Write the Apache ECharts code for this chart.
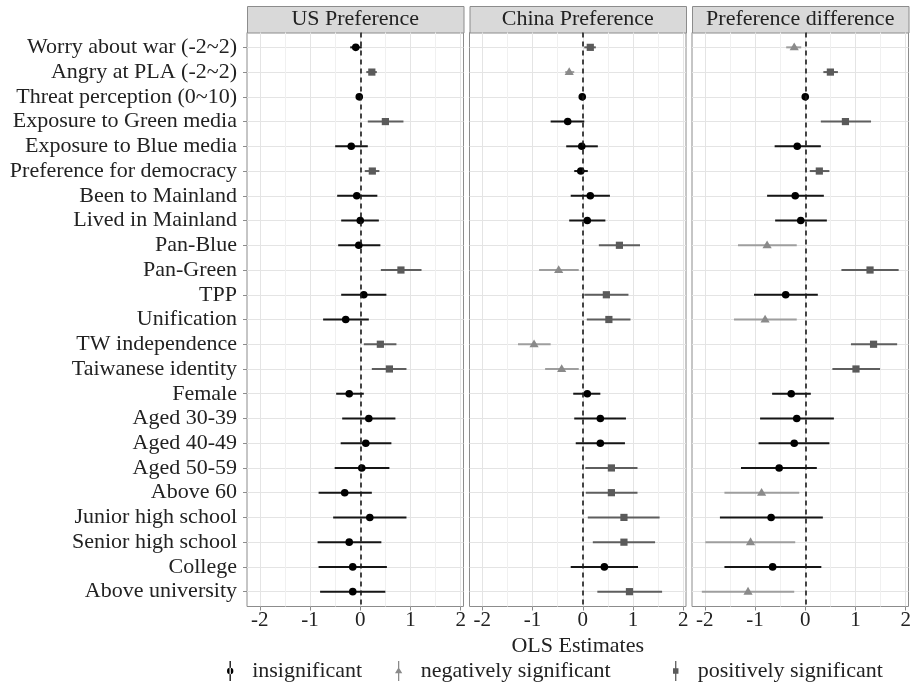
<!DOCTYPE html>
<html>
<head>
<meta charset="utf-8">
<script src="https://cdn.jsdelivr.net/npm/echarts@6/dist/echarts.min.js"></script>
<style>html,body{margin:0;padding:0;background:#fff}#chart{width:913px;height:691px}</style>
</head>
<body>
<div id="chart"></div>
<script>
var categories = ['Worry about war (-2~2)','Angry at PLA (-2~2)','Threat perception (0~10)','Exposure to Green media',
  'Exposure to Blue media','Preference for democracy','Been to Mainland','Lived in Mainland','Pan-Blue','Pan-Green',
  'TPP','Unification','TW independence','Taiwanese identity','Female','Aged 30-39','Aged 40-49','Aged 50-59',
  'Above 60','Junior high school','Senior high school','College','Above university'];
var panelNames = ['US Preference','China Preference','Preference difference'];

// i = insignificant, n = negatively significant, p = positively significant
var usEst = [-0.09,0.23,-0.02,0.50,-0.18,0.24,-0.07,0.00,-0.03,0.81,0.07,-0.29,0.40,0.58,-0.22,0.17,0.11,0.03,-0.31,0.19,-0.22,-0.15,-0.15];
var usLo  = [-0.20,0.12,-0.07,0.15,-0.50,0.09,-0.46,-0.38,-0.44,0.41,-0.38,-0.74,0.07,0.23,-0.48,-0.36,-0.39,-0.51,-0.83,-0.54,-0.85,-0.83,-0.80];
var usHi  = [0.03,0.33,0.03,0.86,0.15,0.38,0.34,0.37,0.40,1.22,0.52,0.17,0.72,0.92,0.07,0.70,0.62,0.58,0.23,0.92,0.42,0.53,0.50];
var usSig = ['i','p','i','p','i','p','i','i','i','p','i','i','p','p','i','i','i','i','i','i','i','i','i'];

var cnEst = [0.15,-0.27,-0.01,-0.30,-0.02,-0.04,0.15,0.09,0.73,-0.48,0.47,0.52,-0.97,-0.42,0.09,0.35,0.35,0.57,0.57,0.82,0.82,0.43,0.93];
var cnLo  = [0.03,-0.35,-0.05,-0.64,-0.33,-0.17,-0.24,-0.27,0.32,-0.87,0.03,0.08,-1.29,-0.75,-0.19,-0.17,-0.14,0.05,0.06,0.10,0.20,-0.24,0.29];
var cnHi  = [0.26,-0.17,0.03,0.03,0.30,0.10,0.54,0.45,1.14,-0.08,0.91,0.95,-0.64,-0.08,0.35,0.86,0.84,1.09,1.09,1.53,1.44,1.10,1.58];
var cnSig = ['p','n','i','i','i','i','i','i','p','n','p','p','n','n','i','i','i','p','p','p','p','i','p'];

var diffEst = [-0.22,0.50,0.00,0.80,-0.16,0.28,-0.20,-0.09,-0.76,1.29,-0.39,-0.80,1.36,1.01,-0.28,-0.17,-0.22,-0.52,-0.87,-0.68,-1.09,-0.65,-1.14];
var diffLo  = [-0.38,0.36,-0.06,0.31,-0.61,0.09,-0.76,-0.60,-1.34,0.72,-1.02,-1.42,0.91,0.54,-0.66,-0.90,-0.93,-1.28,-1.61,-1.70,-1.99,-1.61,-2.06];
var diffHi  = [-0.08,0.65,0.06,1.31,0.31,0.48,0.37,0.43,-0.17,1.86,0.25,-0.17,1.83,1.49,0.11,0.57,0.48,0.23,-0.12,0.35,-0.20,0.32,-0.22];
var diffSig = ['n','p','i','p','i','p','i','i','n','p','i','n','p','p','i','i','i','i','n','i','n','i','n'];

var xTicks = [-2,-1,0,1,2];
var xMinorTicks = [-1.5,-0.5,0.5,1.5];
var groupNames = {i:'insignificant', n:'negatively significant', p:'positively significant'};

var panels = [
  {est:usEst, lo:usLo, hi:usHi, sig:usSig},
  {est:cnEst, lo:cnLo, hi:cnHi, sig:cnSig},
  {est:diffEst, lo:diffLo, hi:diffHi, sig:diffSig}
];

var FONT = 'Liberation Serif';
var TXT = '#222';
var sty = {
  i:{point:'#000000', line:'#151515'},
  n:{point:'#8a8a8a', line:'#9e9e9e'},
  p:{point:'#5a5a5a', line:'#5e5e5e'}
};

// shared x scale, ggplot-like 5% expansion
var allLo = usLo.concat(cnLo, diffLo), allHi = usHi.concat(cnHi, diffHi);
var dMin = Math.min.apply(null, allLo), dMax = Math.max.apply(null, allHi);
var xMin = dMin - 0.05*(dMax-dMin), xMax = dMax + 0.05*(dMax-dMin);

var gridLeft = [247, 469.5, 692], gridW = 216.5, gridTop = 32.5, gridH = 574;
var rowIdx = categories.map(function(c,i){return i;});

function makeRender(code){
  var s = sty[code];
  return function(params, api){
    var row = api.value(1);
    var p = api.coord([api.value(0), row]);
    var a = api.coord([api.value(2), row]);
    var b = api.coord([api.value(3), row]);
    var mark;
    if (code === 'i') {
      mark = {type:'circle', shape:{cx:p[0], cy:p[1], r:3.8}, style:{fill:s.point}};
    } else if (code === 'p') {
      mark = {type:'rect', shape:{x:p[0]-3.6, y:p[1]-3.6, width:7.2, height:7.2}, style:{fill:s.point}};
    } else {
      mark = {type:'polygon', shape:{points:[[p[0],p[1]-4.8],[p[0]+4.6,p[1]+3],[p[0]-4.6,p[1]+3]]}, style:{fill:s.point}};
    }
    return {type:'group', children:[
      {type:'line', shape:{x1:a[0], y1:a[1], x2:b[0], y2:b[1]}, style:{stroke:s.line, lineWidth:2}},
      mark
    ]};
  };
}

var grids = [], xAxes = [], yAxes = [], series = [], graphics = [];
panels.forEach(function(pd, k){
  grids.push({left:gridLeft[k], top:gridTop, width:gridW, height:gridH, show:true,
    backgroundColor:'#fff', borderColor:'#8c8c8c', borderWidth:1, containLabel:false, outerBoundsMode:'none'});
  xAxes.push({type:'value', gridIndex:k, min:xMin, max:xMax, position:'bottom',
    axisLine:{show:false, onZero:false},
    axisTick:{show:true, length:4, lineStyle:{color:'#8c8c8c'}, customValues:xTicks},
    axisLabel:{customValues:xTicks, fontFamily:FONT, fontSize:21, color:TXT, margin:3},
    splitLine:{show:true, lineStyle:{color:'#e4e4e4', width:1}},
    name: k === 1 ? 'OLS Estimates' : '', nameLocation:'middle', nameGap:22,
    nameTextStyle:{fontFamily:FONT, fontSize:22, color:TXT}
  });
  xAxes.push({type:'value', gridIndex:k, min:xMin, max:xMax, position:'top',
    axisLine:{show:false, onZero:false}, axisTick:{show:false, customValues:xMinorTicks},
    axisLabel:{show:false, customValues:xMinorTicks},
    splitLine:{show:true, lineStyle:{color:'#f0f0f0', width:1}}
  });
  yAxes.push({type:'value', gridIndex:k, inverse:true, min:-0.6, max:categories.length-0.4,
    axisLine:{show:false, onZero:false},
    axisTick:{show:k === 0, length:4, lineStyle:{color:'#8c8c8c'}, customValues:rowIdx},
    axisLabel:{show:k === 0, customValues:rowIdx, fontFamily:FONT, fontSize:22, color:TXT, margin:10,
      formatter:function(v){ return categories[Math.round(v)]; }},
    splitLine:{show:true, lineStyle:{color:'#e4e4e4', width:1}}
  });
  series.push({type:'line', xAxisIndex:2*k, yAxisIndex:k, data:[], silent:true,
    markLine:{silent:true, symbol:'none', label:{show:false}, animation:false,
      lineStyle:{color:'#1a1a1a', type:[5,4], width:1.6}, data:[{xAxis:0}]}});
  ['i','n','p'].forEach(function(code){
    var data = [];
    pd.est.forEach(function(v, r){
      if (pd.sig[r] === code) data.push([v, r, pd.lo[r], pd.hi[r]]);
    });
    series.push({type:'custom', name:groupNames[code], xAxisIndex:2*k, yAxisIndex:k,
      itemStyle:{color:sty[code].point}, renderItem:makeRender(code),
      encode:{x:[0,2,3], y:1}, data:data, z:3});
  });
  // facet strip
  graphics.push({type:'rect', left:gridLeft[k], top:6, shape:{width:gridW, height:26.5},
    style:{fill:'#d9d9d9', stroke:'#8c8c8c', lineWidth:1}});
  graphics.push({type:'text', x:gridLeft[k]+gridW/2, y:19.5,
    style:{text:panelNames[k], align:'center', verticalAlign:'middle', fontFamily:FONT, fontSize:22, fill:TXT}});
});

var icons = {
  i:'path://M4.3,0H5.7V22H4.3Z M1.5,11A3.5,3.5 0 1 0 8.5,11A3.5,3.5 0 1 0 1.5,11Z',
  n:'path://M4.3,0H5.7V22H4.3Z M5,6.8L9,13.6H1Z',
  p:'path://M4.3,0H5.7V22H4.3Z M2,8H8V14H2Z'
};
var legendLeft = {i:222, n:390, p:668};
var legends = ['i','n','p'].map(function(code){
  return {left:legendLeft[code], top:655, orient:'horizontal', itemWidth:34, itemHeight:20,
    symbolKeepAspect:true, selectedMode:false,
    textStyle:{fontFamily:FONT, fontSize:22, color:TXT},
    data:[{name:groupNames[code], icon:icons[code]}]};
});

var chart = echarts.init(document.getElementById('chart'));
chart.setOption({
  animation:false,
  backgroundColor:'#fff',
  grid:grids, xAxis:xAxes, yAxis:yAxes,
  legend:legends,
  graphic:graphics,
  series:series
});
</script>
</body>
</html>
